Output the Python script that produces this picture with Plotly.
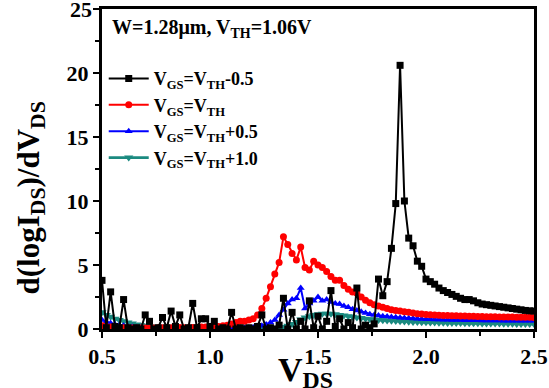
import plotly.graph_objects as go

# V_DS grid (V), step 0.02 from 0.50 to 2.50
vds = [round(0.5 + 0.02 * i, 2) for i in range(101)]

black_vals = [
    3.8, 0.1, 2.9, 0.2, 0.1, 2.3, 0.1, 0.0, 0.1, 0.0,   # 0.50-0.68
    1.1, 0.6, 0.0, 0.1, 0.9, 0.1, 1.4, 0.2, 1.1, 0.0,   # 0.70-0.88
    0.1, 2.0, 0.1, 0.8, 0.8, 0.2, 0.6, 0.0, 0.1, 0.0,   # 0.90-1.08
    1.3, 0.0, 0.1, 0.0, 0.1, 0.0, 0.2, 1.1, 0.0, 0.1,   # 1.10-1.28
    0.0, 0.3, 2.4, 0.0, 1.3, 0.0, 0.6, 0.0, 2.2, 0.1,   # 1.30-1.48
    1.0, 0.0, 0.6, 3.0, 0.2, 0.8, 0.0, 0.5, 0.1, 3.2,   # 1.50-1.68
    0.0, 0.3, 0.1, 0.4, 3.9, 2.6, 3.7, 6.3, 9.8, 20.6,  # 1.70-1.88
    10.0, 7.1, 6.5, 5.3, 4.9, 3.9, 3.7, 3.5, 3.2, 3.0,  # 1.90-2.08
    2.85, 2.7, 2.55, 2.4, 2.3, 2.3, 2.2, 2.05, 1.95, 1.9,  # 2.10-2.28
    1.85, 1.8, 1.75, 1.7, 1.65, 1.6, 1.55, 1.5, 1.45, 1.42,  # 2.30-2.48
    1.4,  # 2.50
]

red_vals = [
    0.25, 0.2, 0.15, 0.12, 0.1, 0.1, 0.1, 0.08, 0.08, 0.08,   # 0.50-0.68
    0.08, 0.08, 0.08, 0.1, 0.1, 0.12, 0.1, 0.1, 0.12, 0.1,    # 0.70-0.88
    0.1, 0.12, 0.12, 0.15, 0.15, 0.15, 0.18, 0.2, 0.25, 0.3,  # 0.90-1.08
    0.4, 0.5, 0.6, 0.6, 0.7, 0.8, 1.1, 1.6, 2.4, 3.3,         # 1.10-1.28
    4.3, 5.2, 7.2, 6.6, 5.9, 5.4, 6.4, 4.8, 4.6, 5.3,         # 1.30-1.48
    5.0, 4.8, 4.5, 4.1, 3.8, 3.8, 3.4, 3.1, 2.9, 2.8,         # 1.50-1.68
    2.5, 2.25, 2.05, 1.9, 1.8, 1.7, 1.6, 1.5, 1.45, 1.4,      # 1.70-1.88
    1.35, 1.3, 1.25, 1.2, 1.17, 1.14, 1.12, 1.1, 1.08, 1.06,  # 1.90-2.08
    1.05, 1.04, 1.03, 1.02, 1.01, 1.0, 0.99, 0.98, 0.97, 0.96,  # 2.10-2.28
    0.95, 0.95, 0.94, 0.94, 0.93, 0.93, 0.92, 0.92, 0.91, 0.91,  # 2.30-2.48
    0.9,  # 2.50
]

blue_vals = [
    0.7, 0.55, 0.45, 0.35, 0.3, 0.25, 0.2, 0.15, 0.12, 0.1,   # 0.50-0.68
    0.08, 0.07, 0.06, 0.06, 0.05, 0.05, 0.05, 0.05, 0.05, 0.05,  # 0.70-0.88
    0.05, 0.05, 0.05, 0.05, 0.05, 0.05, 0.06, 0.06, 0.06, 0.07,  # 0.90-1.08
    0.07, 0.08, 0.08, 0.09, 0.1, 0.12, 0.15, 0.25, 0.35, 0.5,    # 1.10-1.28
    0.7, 1.1, 1.5, 2.0, 2.3, 2.4, 3.2, 1.6, 2.0, 2.2,            # 1.30-1.48
    2.5, 2.2, 2.3, 2.1, 2.0, 1.95, 1.8, 1.7, 1.55, 1.45,         # 1.50-1.68
    1.35, 1.25, 1.15, 1.1, 1.05, 1.0, 0.97, 0.94, 0.91, 0.88,    # 1.70-1.88
    0.86, 0.84, 0.82, 0.8, 0.78, 0.77, 0.76, 0.75, 0.74, 0.73,   # 1.90-2.08
    0.72, 0.71, 0.7, 0.7, 0.69, 0.69, 0.68, 0.68, 0.67, 0.67,    # 2.10-2.28
    0.66, 0.66, 0.66, 0.65, 0.65, 0.65, 0.65, 0.64, 0.64, 0.64,  # 2.30-2.48
    0.64,  # 2.50
]

teal_vals = [
    1.3, 1.1, 0.95, 0.8, 0.7, 0.6, 0.5, 0.42, 0.35, 0.3,        # 0.50-0.68
    0.25, 0.2, 0.17, 0.14, 0.12, 0.1, 0.1, 0.09, 0.09, 0.08,    # 0.70-0.88
    0.08, 0.08, 0.08, 0.08, 0.08, 0.08, 0.08, 0.08, 0.08, 0.08,  # 0.90-1.08
    0.08, 0.08, 0.08, 0.08, 0.08, 0.08, 0.08, 0.08, 0.08, 0.08,  # 1.10-1.28
    0.08, 0.1, 0.15, 0.25, 0.4, 0.55, 0.75, 0.9, 1.0, 1.1,      # 1.30-1.48
    1.15, 1.2, 1.2, 1.2, 1.15, 1.1, 1.05, 1.0, 0.95, 0.9,       # 1.50-1.68
    0.85, 0.8, 0.77, 0.74, 0.7, 0.68, 0.66, 0.64, 0.62, 0.6,    # 1.70-1.88
    0.58, 0.56, 0.55, 0.54, 0.53, 0.52, 0.51, 0.5, 0.49, 0.48,  # 1.90-2.08
    0.47, 0.47, 0.46, 0.46, 0.45, 0.45, 0.44, 0.44, 0.43, 0.43,  # 2.10-2.28
    0.42, 0.42, 0.42, 0.41, 0.41, 0.41, 0.4, 0.4, 0.4, 0.4,     # 2.30-2.48
    0.4,  # 2.50
]

names = [
    "V<sub>GS</sub>=V<sub>TH</sub>-0.5",
    "V<sub>GS</sub>=V<sub>TH</sub>",
    "V<sub>GS</sub>=V<sub>TH</sub>+0.5",
    "V<sub>GS</sub>=V<sub>TH</sub>+1.0",
]
colors = ["#000000", "#ff0000", "#0000ff", "#1b8a80"]
symbols = ["square", "circle", "triangle-up", "triangle-down"]
line_widths = [2, 2, 2, 2.6]
marker_sizes = [7, 7, 7, 8]
series = [black_vals, red_vals, blue_vals, teal_vals]

x_ticks = [0.5, 1.0, 1.5, 2.0, 2.5]
x_ticklabels = ["0.5", "1.0", "1.5", "2.0", "2.5"]
y_ticks = [0, 5, 10, 15, 20, 25]
y_ticklabels = ["0", "5", "10", "15", "20", "25"]
Y_MAX = 25

FONT = "Liberation Serif"

fig = go.Figure()
draw_order = [3, 2, 1, 0]
for i in draw_order:
    fig.add_trace(go.Scatter(
        x=vds, y=series[i], name=names[i], mode="lines+markers",
        line=dict(color=colors[i], width=line_widths[i]),
        marker=dict(symbol=symbols[i], size=marker_sizes[i], color=colors[i]),
        legendrank=i + 1,
    ))

tickfont = dict(family=FONT, size=22, color="black", weight="bold")
axis_common = dict(
    showline=True, linecolor="black", linewidth=3, mirror=True,
    ticks="outside", ticklen=6, tickwidth=2, tickcolor="black",
    showgrid=False, zeroline=False, automargin=False,
    tickfont=tickfont,
)

fig.update_xaxes(
    range=[0.5, 2.5], tickvals=x_ticks, ticktext=x_ticklabels,
    minor=dict(ticks="outside", ticklen=4, tickwidth=2, tickcolor="black", dtick=0.25),
    **axis_common,
)
fig.update_yaxes(
    range=[0, Y_MAX], tickvals=y_ticks, ticktext=y_ticklabels,
    minor=dict(ticks="outside", ticklen=4, tickwidth=2, tickcolor="black", dtick=2.5),
    **axis_common,
)

# the top tick label (plotly drops it at the very edge of the page)
fig.add_annotation(
    text=y_ticklabels[-1], xref="paper", yref="y", x=0, y=Y_MAX,
    xanchor="right", yanchor="middle", xshift=-8, showarrow=False,
    font=tickfont,
)

# axis titles as annotations (placed like the reference)
fig.add_annotation(
    text="<b>d(logI<sub>DS</sub>)/dV<sub>DS</sub></b>",
    xref="paper", yref="paper", x=-0.165, y=0.41, xanchor="center", yanchor="middle",
    textangle=-90, showarrow=False, font=dict(family=FONT, size=31, color="black"),
)
fig.add_annotation(
    text="<b>V<sub>DS</sub></b>",
    xref="paper", yref="paper", x=0.47, y=-0.062, xanchor="center", yanchor="top",
    showarrow=False, font=dict(family=FONT, size=34, color="black"),
)

fig.add_annotation(
    text="<b>W=1.28μm, V<sub>TH</sub>=1.06V</b>",
    xref="paper", yref="paper", x=0.018, y=0.985, xanchor="left", yanchor="top",
    showarrow=False, font=dict(family=FONT, size=20, color="black"),
)

fig.update_layout(
    width=549, height=388,
    margin=dict(l=102, r=15, t=9, b=59),
    plot_bgcolor="white", paper_bgcolor="white",
    legend=dict(
        x=0.004, y=0.84, xanchor="left", yanchor="top",
        font=dict(family=FONT, size=18, color="black", weight="bold"),
        bgcolor="rgba(0,0,0,0)", itemwidth=40, tracegroupgap=0,
    ),
    showlegend=True,
)

fig.write_html("out.html")
